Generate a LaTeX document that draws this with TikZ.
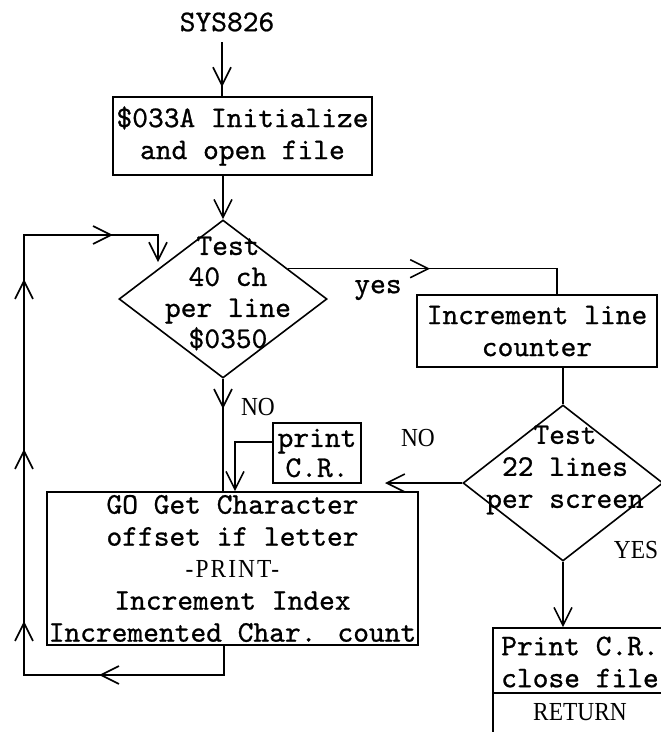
\documentclass[tikz,border=0pt]{standalone}
\usepackage{fontspec}
\setmainfont{Liberation Serif}
\newfontfamily\lbfont[FakeStretch=0.9]{Liberation Serif}
\newfontfamily\twfontx[FakeBold=0.8]{lmmono10-regular.otf}
\newcommand\twfont{\twfontx}
\usetikzlibrary{arrows.meta,shapes.geometric,decorations.markings,calc}
\begin{document}
\begin{tikzpicture}[x=1pt,y=-1pt,
  line width=1.6pt,
  tw/.style={font=\twfont\fontsize{30}{32}\selectfont, align=center, inner sep=0pt},
  sf/.style={font=\lbfont\fontsize{26}{28}\selectfont, inner sep=0pt},
  boxnode/.style={draw, rectangle, inner sep=0pt},
  decide/.style={draw, diamond, inner sep=0pt},
  arrtip/.style={-{Straight Barb[length=18pt,width=18pt]}},
  midarrow/.style={postaction={decorate},decoration={markings,mark=at position #1 with {\arrow{Straight Barb[length=18pt,width=18pt]}}}},
]
\path[use as bounding box] (0,0) rectangle (661,732);
\clip (0,0) rectangle (661,732);

% nodes
\node[tw] (sys) at (227,22) {SYS826};
\node[boxnode, tw, minimum width=259pt, minimum height=78pt] (b1) at (242.5,136) {\$033A Initialize\\and open file};
\node[decide, minimum width=208pt, minimum height=158pt] (d1) at (223,299) {};
\node[tw, font=\twfont\fontsize{30}{31}\selectfont] (d1t) at (228,293.5) {Test\\40 ch\\per line\\\$0350};
\node[boxnode, tw, minimum width=240pt, minimum height=72pt] (b2) at (537,331) {Increment line\\counter};
\node[decide, minimum width=200pt, minimum height=156pt] (d2) at (563,483) {};
\node[tw] (d2t) at (565,470) {Test\\22 lines\\per screen};
\node[boxnode, tw, font=\twfont\fontsize{30}{30}\selectfont, minimum width=88pt, minimum height=60pt] (pcr) at (317,453) {print\\C.R.};
\node[boxnode, tw, minimum width=371pt, minimum height=153pt] (mb) at (232.5,568.5) {GO Get Character\\offset if letter\\{\lbfont\addfontfeature{LetterSpace=8}\fontsize{26}{32}\selectfont -PRINT-}\\Increment Index\\Incremented Char. count};
\node[boxnode, minimum width=180pt, minimum height=65pt] (f1) at (583,660.5) {};
\node[tw] (f1t) at (580,662) {Print C.R.\\close file};
\node[boxnode, minimum width=180pt, minimum height=67pt] (f2) at (583,726.5) {};
\node[sf] (ret) at (580,712) {RETURN};

% labels
\node[tw] (yes) at (378,290) {yes};
\node[sf] (no1) at (258,407) {NO};
\node[sf] (no2) at (418,438) {NO};
\node[sf] (yes2) at (636,550) {YES};

% coordinates
\coordinate (s0) at (222,42);
\coordinate (y0) at ($(d1.north)!0.62!(d1.east)$);
\coordinate (yturn) at (557,269);
\coordinate (n2end) at (385,483);
\coordinate (pc1) at (235,442);
\coordinate (lb) at (224,675);
\coordinate (ll) at (24,675);
\coordinate (lt) at (24,235);
\coordinate (le) at (158,262);

% connectors
\draw[midarrow=45pt] (s0) -- (b1.north -| s0);
\draw[arrtip] (b1.south -| d1.north) -- (d1.north);
\draw[midarrow=30pt] (d1.south) -- (mb.north -| d1.south);
\draw[midarrow=142pt] (y0) -- (y0 -| yturn) -- (b2.north -| yturn);
\draw (b2.south -| d2.north) -- (d2.north);
\draw[arrtip] (d2.west) -- (n2end);
\draw[arrtip] (d2.south) -- (f1.north -| d2.south);
\draw[arrtip] (pcr.west |- pc1) -- (pc1) -- (mb.north -| pc1);
\draw[arrtip, postaction={decorate}, decoration={markings,
    mark=at position 154pt with {\arrow{Straight Barb[length=18pt,width=18pt]}},
    mark=at position 283pt with {\arrow{Straight Barb[length=18pt,width=18pt]}},
    mark=at position 455pt with {\arrow{Straight Barb[length=18pt,width=18pt]}},
    mark=at position 625pt with {\arrow{Straight Barb[length=18pt,width=18pt]}},
    mark=at position 758pt with {\arrow{Straight Barb[length=18pt,width=18pt]}}}]
  (mb.south -| lb) -- (lb) -- (ll) -- (lt) -- (lt -| le) -- (le);
\end{tikzpicture}
\end{document}
